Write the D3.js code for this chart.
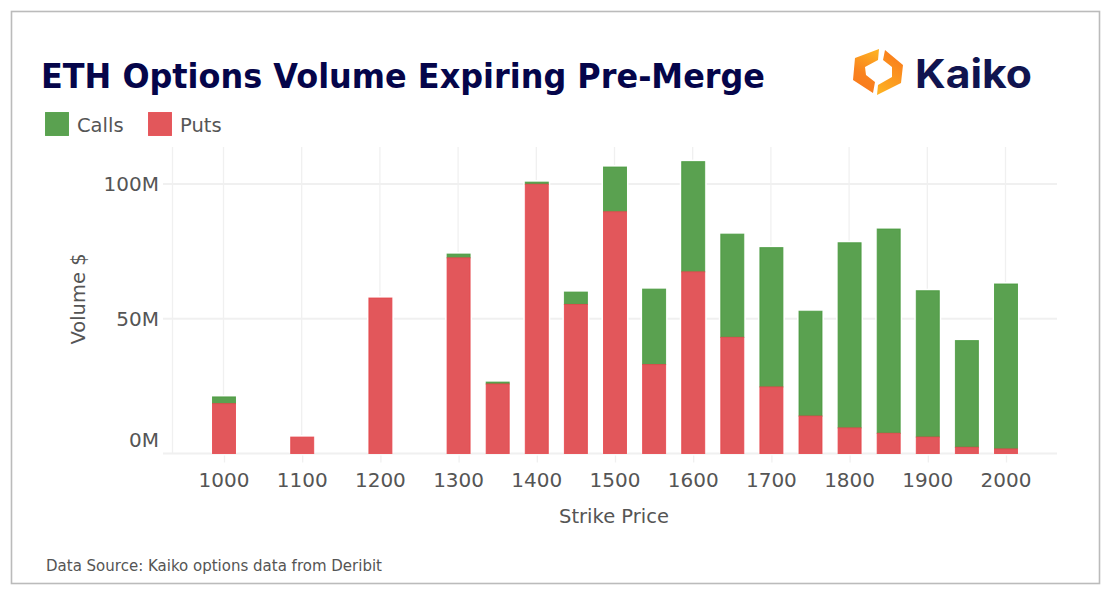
<!DOCTYPE html>
<html>
<head>
<meta charset="UTF-8">
<title>ETH Options Volume Expiring Pre-Merge</title>
<style>
  html, body { margin: 0; padding: 0; background: #fff; }
  svg { display: block; }
  text { font-family: "DejaVu Sans", sans-serif; }
</style>
</head>
<body>
<div id="chart"></div>
<script src="https://d3js.org/d3.v7.min.js"></script>
<script>
// values, in $M
var strikes = [1000, 1100, 1200, 1300, 1350, 1400, 1450, 1500, 1550, 1600, 1650, 1700, 1750, 1800, 1850, 1900, 1950, 2000];
var puts = [18.5, 6.1, 57.7, 72.6, 25.8, 99.9, 55.3, 89.7, 33, 67.4, 43.1, 24.7, 13.9, 9.5, 7.5, 6.1, 2.3, 1.7];
var calls = [2.5, 0, 0, 1.4, 0.7, 0.8, 4.6, 16.6, 28, 40.9, 38.3, 51.7, 38.9, 68.7, 75.8, 54.3, 39.6, 61.2];
var tickLabels = [1000, 1100, 1200, 1300, 1400, 1500, 1600, 1700, 1800, 1900, 2000];
var yTicks = [0, 50, 100];
var legendItems = ["Calls", "Puts"];

var colors = { Calls: "#5aa150", Puts: "#e2575b" };
var strokes = { Calls: "#479a3c", Puts: "#e6434a" };

var width = 1114, height = 595;
var textColor = "#555555", gridColor = "#f0f0f0";
var plot = { left: 172.5, right: 1057, top: 147, bottom: 453.5 };
var barWidth = 23;

var svg = d3.select("#chart").append("svg")
    .attr("width", width)
    .attr("height", height);

// outer frame
svg.append("rect")
    .attr("x", 11.5).attr("y", 11.5)
    .attr("width", 1088).attr("height", 572)
    .attr("fill", "#fff")
    .attr("stroke", "#bbbbbb")
    .attr("stroke-width", 1.6);

var x = d3.scaleLinear().domain([1000, 2000]).range([224, 1006]);
var y = d3.scaleLinear().domain([0, 100]).range([plot.bottom, 184]);

// grid
svg.append("g").selectAll("line").data(tickLabels).enter().append("line")
    .attr("x1", function (d) { return x(d) - 0.5; })
    .attr("x2", function (d) { return x(d) - 0.5; })
    .attr("y1", plot.top).attr("y2", plot.bottom)
    .attr("stroke", gridColor).attr("stroke-width", 1.3);

svg.append("line")
    .attr("x1", plot.left).attr("x2", plot.left)
    .attr("y1", plot.top).attr("y2", plot.bottom)
    .attr("stroke", gridColor).attr("stroke-width", 1.3);

svg.append("g").selectAll("line").data(yTicks).enter().append("line")
    .attr("x1", 163).attr("x2", plot.right)
    .attr("y1", function (d) { return y(d); })
    .attr("y2", function (d) { return y(d); })
    .attr("stroke", gridColor).attr("stroke-width", 1.8);

// x tick marks
svg.append("g").selectAll("line").data(tickLabels).enter().append("line")
    .attr("x1", function (d) { return x(d) + 0.5; })
    .attr("x2", function (d) { return x(d) + 0.5; })
    .attr("y1", plot.bottom + 2).attr("y2", plot.bottom + 9)
    .attr("stroke", gridColor).attr("stroke-width", 1.3);

// bars, puts at the bottom and calls stacked on top
var bars = svg.append("g");
strikes.forEach(function (s, i) {
    // white halo that cuts the grid lines around a bar
    bars.append("rect")
        .attr("x", x(s) - barWidth / 2 - 2)
        .attr("y", y(puts[i] + calls[i]) - 2)
        .attr("width", barWidth + 4)
        .attr("height", y(0) - y(puts[i] + calls[i]) + 1)
        .attr("fill", "#fff");
    if (calls[i] > 0) {
        bars.append("rect")
            .attr("x", x(s) - barWidth / 2)
            .attr("y", y(puts[i] + calls[i]))
            .attr("width", barWidth)
            .attr("height", y(puts[i]) - y(puts[i] + calls[i]))
            .attr("fill", colors.Calls)
            .attr("stroke", strokes.Calls)
            .attr("stroke-opacity", 0.8);
    }
    bars.append("rect")
        .attr("x", x(s) - barWidth / 2)
        .attr("y", y(puts[i]))
        .attr("width", barWidth)
        .attr("height", y(0) - y(puts[i]))
        .attr("fill", colors.Puts)
        .attr("stroke", strokes.Puts)
        .attr("stroke-opacity", 0.8);
});

// axis labels
svg.append("g").selectAll("text").data(tickLabels).enter().append("text")
    .attr("x", function (d) { return x(d); })
    .attr("y", 487)
    .attr("text-anchor", "middle")
    .attr("font-size", 20)
    .attr("fill", textColor)
    .text(function (d) { return d; });

svg.append("g").selectAll("text").data(yTicks).enter().append("text")
    .attr("x", 159)
    .attr("y", function (d) { return y(d) + (d === 0 ? -7 : 7); })
    .attr("text-anchor", "end")
    .attr("font-size", 20)
    .attr("fill", textColor)
    .text(function (d) { return d + "M"; });

svg.append("text")
    .attr("x", 614).attr("y", 523)
    .attr("text-anchor", "middle")
    .attr("font-size", 19.5)
    .attr("fill", textColor)
    .text("Strike Price");

svg.append("text")
    .attr("transform", "translate(85,299) rotate(-90)")
    .attr("text-anchor", "middle")
    .attr("font-size", 19.5)
    .attr("fill", textColor)
    .text("Volume $");

// title
svg.append("text")
    .attr("x", 41).attr("y", 88)
    .attr("font-size", 33)
    .attr("font-weight", "bold")
    .attr("fill", "#05054a")
    .attr("textLength", 724)
    .attr("lengthAdjust", "spacingAndGlyphs")
    .text("ETH Options Volume Expiring Pre-Merge");

// legend
var legendX = [45, 148];
legendItems.forEach(function (name, i) {
    svg.append("rect")
        .attr("x", legendX[i] + 0.5).attr("y", 112.5)
        .attr("width", 23).attr("height", 23)
        .attr("fill", colors[name])
        .attr("stroke", strokes[name])
        .attr("stroke-opacity", 0.8);
    svg.append("text")
        .attr("x", legendX[i] + 32).attr("y", 132)
        .attr("font-size", 19.5)
        .attr("fill", textColor)
        .text(name);
});

// source
svg.append("text")
    .attr("x", 46).attr("y", 571)
    .attr("font-size", 15)
    .attr("fill", textColor)
    .attr("textLength", 336)
    .attr("lengthAdjust", "spacingAndGlyphs")
    .text("Data Source: Kaiko options data from Deribit");

// logo
var defs = svg.append("defs");
var leftGrad = defs.append("linearGradient").attr("id", "logoLeft")
    .attr("x1", "0.7").attr("y1", "0").attr("x2", "0.4").attr("y2", "1");
leftGrad.append("stop").attr("offset", "0").attr("stop-color", "#fdb022");
leftGrad.append("stop").attr("offset", "0.6").attr("stop-color", "#f9821e");
leftGrad.append("stop").attr("offset", "1").attr("stop-color", "#f97a1c");
var rightGrad = defs.append("linearGradient").attr("id", "logoRight")
    .attr("x1", "0.3").attr("y1", "1").attr("x2", "0.7").attr("y2", "0");
rightGrad.append("stop").attr("offset", "0").attr("stop-color", "#fdb022");
rightGrad.append("stop").attr("offset", "0.6").attr("stop-color", "#fb8f1e");
rightGrad.append("stop").attr("offset", "1").attr("stop-color", "#f97a1c");

var logo = svg.append("g");
logo.append("path")
    .attr("d", "M879 49 L855 58 L853 80 L873 93 L875 82 L866 75 L865 67 L878 60 Z")
    .attr("fill", "url(#logoLeft)");
logo.append("path")
    .attr("d", "M885 50 L903 65 L901 83 L877 95 L878 85 L892 77 L892 67 L883 60 Z")
    .attr("fill", "url(#logoRight)");
logo.append("text")
    .attr("x", 915).attr("y", 88)
    .attr("font-size", 40)
    .attr("font-weight", 700)
    .attr("style", "font-family: Inter, sans-serif")
    .attr("fill", "#10144f")
    .attr("textLength", 117)
    .attr("lengthAdjust", "spacingAndGlyphs")
    .text("Kaiko");
</script>
</body>
</html>
